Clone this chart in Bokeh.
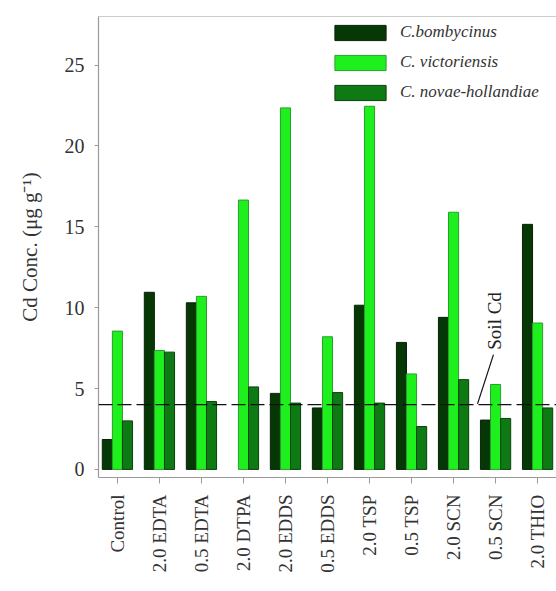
from math import pi

from bokeh.embed import file_html
from bokeh.resources import INLINE
from bokeh.plotting import figure
from bokeh.models import (ColumnDataSource, FixedTicker, Legend, LegendItem,
                          Span, Range1d)
from bokeh.core.properties import value

nan = float("nan")

# Treatments (x categories)
treatments = ["Control", "2.0 EDTA", "0.5 EDTA", "2.0 DTPA", "2.0 EDDS",
              "0.5 EDDS", "2.0 TSP", "0.5 TSP", "2.0 SCN", "0.5 SCN",
              "2.0 THIO"]

# Cd concentration in shoots (ug/g) per species; nan = no plant measured
bombycinus = [1.85, 10.95, 10.3, nan, 4.7, 3.8, 10.15, 7.85, 9.4, 3.05, 15.15]
victoriensis = [8.55, 7.35, 10.7, 16.65, 22.35, 8.2, 22.45, 5.9, 15.9, 5.25, 9.05]
novae_hollandiae = [3.0, 7.25, 4.2, 5.1, 4.1, 4.75, 4.1, 2.65, 5.55, 3.15, 3.8]

species = ["C.bombycinus", "C. victoriensis", "C. novae-hollandiae"]
colors = ["#063806", "#1ef01e", "#0e7a14"]
edges = ["#0b200b", "#2f9a2f", "#0c3f0e"]

soil_cd = 4.0
y_ticks = [0, 5, 10, 15, 20, 25]

SERIF = "Liberation Serif"
AXIS_GREY = "#9a9a9a"

p = figure(width=556, height=591, output_backend="svg", toolbar_location=None,
           x_range=Range1d(-0.45, 10.45), y_range=Range1d(-0.5, 28),
           min_border_left=98, min_border_right=0, min_border_top=16,
           min_border_bottom=114)
p.background_fill_color = "white"
p.border_fill_color = "white"
p.outline_line_color = None
p.xgrid.visible = False
p.ygrid.visible = False

idx = list(range(len(treatments)))
bar_w = 0.24
offsets = [-bar_w, 0.0, bar_w]
renderers = []
for vals, off, col, edge in zip([bombycinus, victoriensis, novae_hollandiae],
                                offsets, colors, edges):
    src = ColumnDataSource(dict(x=[i + off for i in idx], top=vals))
    r = p.vbar(x="x", top="top", bottom=0, width=bar_w, source=src,
               fill_color=col, line_color=edge, line_width=1)
    renderers.append(r)

# frame top edge
p.add_layout(Span(location=28, dimension="width", line_color=AXIS_GREY,
                  line_width=1.2))

# soil Cd reference line with label
p.add_layout(Span(location=soil_cd, dimension="width", line_color="#111111",
                  line_width=1.3, line_dash="14 5"))
p.segment(x0=[8.57], y0=[soil_cd + 0.05], x1=[8.95], y1=[soil_cd + 3.1],
          line_color="#111111", line_width=1.2)
p.text(x=[8.97], y=[soil_cd + 3.4], text=["Soil Cd"], angle=pi / 2,
       text_align="left", text_baseline="middle",
       text_font=value(SERIF), text_font_size="19px", text_color="#222222")

# axes
p.xaxis.ticker = FixedTicker(ticks=idx)
p.xaxis.major_label_overrides = {i: t for i, t in enumerate(treatments)}
p.xaxis.major_label_orientation = pi / 2
p.yaxis.ticker = FixedTicker(ticks=y_ticks)
p.yaxis.axis_label = "Cd Conc. (\u03bcg g\u207b\u00b9)"

for ax in (p.xaxis, p.yaxis):
    ax.axis_line_color = AXIS_GREY
    ax.axis_line_width = 1.2
    ax.major_tick_line_color = AXIS_GREY
    ax.minor_tick_line_color = None
    ax.major_tick_in = 0
    ax.major_label_text_font = SERIF
    ax.major_label_text_color = "#333333"
    ax.axis_label_text_font = SERIF
    ax.axis_label_text_font_style = "normal"
    ax.axis_label_text_font_size = "21px"
    ax.axis_label_text_color = "#333333"

p.xaxis.major_label_text_font_size = "19px"
p.yaxis.major_label_text_font_size = "20px"
p.xaxis.major_tick_out = 6
p.xaxis.major_label_standoff = 11
p.yaxis.major_tick_out = 4
p.yaxis.major_label_standoff = 10
p.yaxis.axis_label_standoff = 20

legend = Legend(items=[LegendItem(label=s, renderers=[r])
                       for s, r in zip(species, renderers)],
                location=(230, 375))
legend.label_text_font = SERIF
legend.label_text_font_style = "italic"
legend.label_text_font_size = "17px"
legend.label_text_color = "#333333"
legend.glyph_width = 64
legend.glyph_height = 19
legend.label_standoff = 8
legend.spacing = 10
legend.padding = 0
legend.margin = 0
legend.border_line_color = None
legend.background_fill_alpha = 0
p.add_layout(legend)

open("out.html", "w").write(file_html(p, INLINE))
